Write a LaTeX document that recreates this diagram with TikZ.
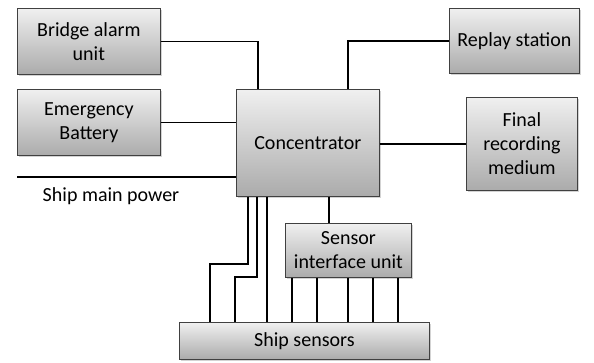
\documentclass[tikz,border=0pt]{standalone}
\usepackage{fontspec}
\setmainfont{Carlito}
\usetikzlibrary{shadows}
\tikzset{
  box/.style={draw=black!75, line width=0.8pt, anchor=north west, align=center,
    top color=black!6, bottom color=black!33, inner sep=2pt,
    font=\fontsize{20}{24}\selectfont,
    drop shadow={opacity=0.35, shadow xshift=1.5pt, shadow yshift=-1.5pt}},
  wire/.style={line width=1.7pt, black}
}
\begin{document}
\begin{tikzpicture}[x=1pt,y=-1pt]
\useasboundingbox (0,0) rectangle (594,362);
\node[box, minimum width=143pt, minimum height=66pt] (bridge) at (17,8) {Bridge alarm\\unit};
\node[box, minimum width=143pt, minimum height=66pt] (batt) at (17,89) {Emergency\\Battery};
\node[box, minimum width=143pt, minimum height=107pt] (conc) at (236,89) {Concentrator};
\node[box, minimum width=130pt, minimum height=65pt] (replay) at (449,8) {Replay station};
\node[box, minimum width=111pt, minimum height=93pt] (final) at (466,97) {Final\\recording\\medium};
\node[box, minimum width=126pt, minimum height=54pt] (siu) at (285,223) {Sensor\\interface unit};
\node[box, minimum width=250pt, minimum height=37pt] (sens) at (179,322) {Ship sensors};
\coordinate (smp) at (17,177);
\node[font=\fontsize{20}{24}\selectfont, anchor=center] (smplabel) at (111,196) {Ship main power};

\draw[wire] (bridge.east) -| ([xshift=22pt]conc.north west);
\draw[wire] (batt.east) -- (batt.east -| conc.west);
\draw[wire] (smp) -- (smp -| conc.west);
\draw[wire] (replay.west) -| ([xshift=112pt]conc.north west);
\draw[wire] (final.west -| conc.east) -- (final.west);
\draw[wire] ([xshift=93pt]conc.south west) -- ([xshift=93pt]conc.south west |- siu.north);
\draw[wire] ([xshift=12pt]conc.south west) |- ([xshift=31pt,yshift=58pt]sens.north west) -- ([xshift=31pt]sens.north west);
\draw[wire] ([xshift=21pt]conc.south west) |- ([xshift=56pt,yshift=45pt]sens.north west) -- ([xshift=56pt]sens.north west);
\draw[wire] ([xshift=31pt]conc.south west) -- ([xshift=31pt]conc.south west |- sens.north);
\foreach \dx in {7,32,63,88,113}
  \draw[wire] ([xshift=\dx pt]siu.south west) -- ([xshift=\dx pt]siu.south west |- sens.north);
\end{tikzpicture}
\end{document}
